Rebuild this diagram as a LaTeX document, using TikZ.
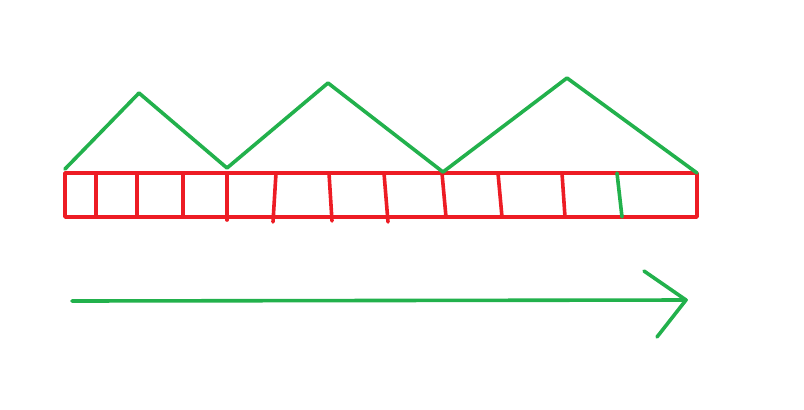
\documentclass[tikz,border=0pt]{standalone}
\usepackage{xcolor}
\usepackage{tikz}
\usetikzlibrary{calc}
\definecolor{paintred}{RGB}{237,28,36}
\definecolor{paintgreen}{RGB}{34,177,76}

\begin{document}
\begin{tikzpicture}[x=0.5pt, y=-0.5pt, line cap=round, line join=round,
    redline/.style={draw=paintred, line width=1.8pt},
    greenline/.style={draw=paintgreen, line width=1.8pt}]
  \useasboundingbox (0,0) rectangle (804,409);
  % strip of cells
  \draw[redline] (65,173) rectangle (697,217);
  \foreach \xa/\xb/\yb in {96/96/217, 137/137/217, 183/183/217, 227/227/220,
      276/273/222, 329/332/221, 384/388/222, 442/446/217, 498/502/217, 562/565/217}
    \draw[redline] (\xa,173) -- (\xb,\yb);
  \draw[greenline] (617,173) -- (622,217);
  % roof peaks
  \draw[greenline] (65,169) -- (139,93) -- (227,168) -- (328,83) -- (443,172);
  \draw[greenline] (443,172) -- (567,78) -- (697,173);
  % arrow
  \coordinate (start) at (72,301);
  \coordinate (tip) at (686,300);
  \draw[greenline] (start) -- (tip);
  \draw[greenline] (644,271) -- (tip) -- (657,337);
\end{tikzpicture}
\end{document}
